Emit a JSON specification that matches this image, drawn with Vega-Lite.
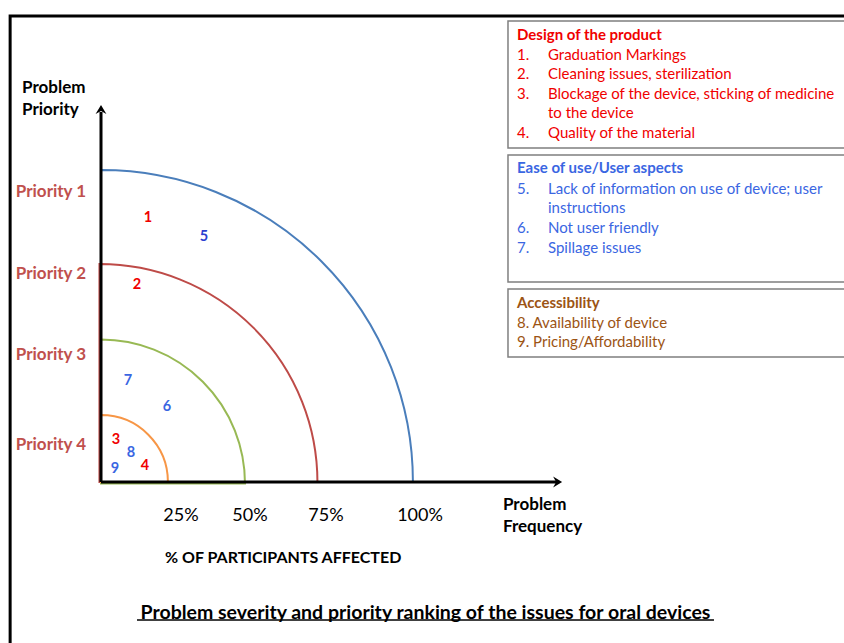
{
  "$schema": "https://vega.github.io/schema/vega-lite/v6.json",
  "width": 844,
  "height": 643,
  "autosize": {"type": "fit", "contains": "padding"},
  "padding": 0,
  "background": "white",
  "config": {"view": {"stroke": null}, "font": "Lato"},
  "datasets": {
    "texts": [
      {"t": "Problem", "x": -25.73, "y": 128.34, "role": "axis_label"},
      {"t": "Priority", "x": -25.73, "y": 121.17, "role": "axis_label"},
      {"t": "Problem", "x": 130.94, "y": -7.49, "role": "axis_label"},
      {"t": "Frequency", "x": 130.94, "y": -14.66, "role": "axis_label"},
      {"t": "Priority 1", "x": -16.29, "y": 94.56, "role": "priority", "g": "priority"},
      {"t": "Priority 2", "x": -16.29, "y": 67.65, "role": "priority", "g": "priority"},
      {"t": "Priority 3", "x": -16.29, "y": 41.47, "role": "priority", "g": "priority"},
      {"t": "Priority 4", "x": -16.29, "y": 12.16, "role": "priority", "g": "priority"},
      {"t": "1", "x": 15.31, "y": 85.99, "role": "marker", "g": "design"},
      {"t": "5", "x": 33.55, "y": 79.8, "role": "marker", "g": "use_dark"},
      {"t": "2", "x": 11.73, "y": 64.17, "role": "marker", "g": "design"},
      {"t": "7", "x": 8.79, "y": 32.9, "role": "marker", "g": "use"},
      {"t": "6", "x": 21.5, "y": 24.43, "role": "marker", "g": "use"},
      {"t": "3", "x": 4.89, "y": 13.68, "role": "marker", "g": "design"},
      {"t": "8", "x": 9.77, "y": 9.45, "role": "marker", "g": "use"},
      {"t": "9", "x": 4.56, "y": 4.23, "role": "marker", "g": "use"},
      {"t": "4", "x": 14.33, "y": 5.21, "role": "marker", "g": "design"},
      {"t": "25%", "x": 26.06, "y": -11.07, "role": "tick"},
      {"t": "50%", "x": 48.53, "y": -11.07, "role": "tick"},
      {"t": "75%", "x": 73.29, "y": -11.07, "role": "tick"},
      {"t": "100%", "x": 103.91, "y": -11.07, "role": "tick"},
      {"t": "% OF PARTICIPANTS AFFECTED", "x": 20.85, "y": -24.66, "role": "caption"},
      {"t": "Problem severity and priority ranking of the issues for oral devices", "x": 105.7, "y": -42.67, "role": "title"},
      {"t": "Design of the product", "x": 135.5, "y": 145.6, "role": "box_head", "g": "design"},
      {"t": "1.", "x": 135.5, "y": 139.09, "role": "box_item", "g": "design"},
      {"t": "Graduation Markings", "x": 145.6, "y": 139.09, "role": "box_item", "g": "design"},
      {"t": "2.", "x": 135.5, "y": 132.9, "role": "box_item", "g": "design"},
      {"t": "Cleaning issues, sterilization", "x": 145.6, "y": 132.9, "role": "box_item", "g": "design"},
      {"t": "3.", "x": 135.5, "y": 126.38, "role": "box_item", "g": "design"},
      {"t": "Blockage of the device, sticking of medicine", "x": 145.6, "y": 126.38, "role": "box_item", "g": "design"},
      {"t": "to the device", "x": 145.6, "y": 120.19, "role": "box_item", "g": "design"},
      {"t": "4.", "x": 135.5, "y": 113.68, "role": "box_item", "g": "design"},
      {"t": "Quality of the material", "x": 145.6, "y": 113.68, "role": "box_item", "g": "design"},
      {"t": "Ease of use/User aspects", "x": 135.5, "y": 102.28, "role": "box_head", "g": "use"},
      {"t": "5.", "x": 135.5, "y": 95.44, "role": "box_item", "g": "use"},
      {"t": "Lack of information on use of device; user", "x": 145.6, "y": 95.44, "role": "box_item", "g": "use"},
      {"t": "instructions", "x": 145.6, "y": 89.25, "role": "box_item", "g": "use"},
      {"t": "6.", "x": 135.5, "y": 82.74, "role": "box_item", "g": "use"},
      {"t": "Not user friendly", "x": 145.6, "y": 82.74, "role": "box_item", "g": "use"},
      {"t": "7.", "x": 135.5, "y": 76.22, "role": "box_item", "g": "use"},
      {"t": "Spillage issues", "x": 145.6, "y": 76.22, "role": "box_item", "g": "use"},
      {"t": "Accessibility", "x": 135.5, "y": 58.31, "role": "box_head", "g": "access"},
      {"t": "8. Availability of device", "x": 135.5, "y": 51.79, "role": "box_item", "g": "access"},
      {"t": "9. Pricing/Affordability", "x": 135.5, "y": 45.6, "role": "box_item", "g": "access"}
    ]
  },
  "encoding": {
    "x": {"field": "x", "type": "quantitative", "scale": {"domain": [-32.9, 242.02], "nice": false, "zero": false}, "axis": null},
    "y": {"field": "y", "type": "quantitative", "scale": {"domain": [-52.44, 157.0], "nice": false, "zero": false}, "axis": null}
  },
  "layer": [
    {
      "data": {"values": [{"x": -29.6, "x2": 260, "y": 151.8, "y2": -71}]},
      "mark": {"type": "rect", "filled": false, "stroke": "black", "strokeWidth": 3, "clip": true},
      "encoding": {"x2": {"field": "x2"}, "y2": {"field": "y2"}}
    },
    {
      "data": {"values": [
        {"box": "design", "x": 132.57, "x2": 260.26, "y": 150.16, "y2": 108.79},
        {"box": "use", "x": 132.57, "x2": 260.26, "y": 106.51, "y2": 65.15},
        {"box": "access", "x": 132.57, "x2": 260.26, "y": 62.87, "y2": 40.72}
      ]},
      "mark": {"type": "rect", "fill": "white", "stroke": "#7f7f7f", "strokeWidth": 1.5, "clip": true},
      "encoding": {"x2": {"field": "x2"}, "y2": {"field": "y2"}}
    },
    {
      "data": {"values": [
        {"x": 0, "y": 0, "r": 101.6, "level": "Priority 1"},
        {"x": -0.5, "y": 0, "r": 71.0, "level": "Priority 2"},
        {"x": 0, "y": -0.5, "r": 46.9, "level": "Priority 3"},
        {"x": 0, "y": 0, "r": 21.8, "level": "Priority 4"}
      ]},
      "mark": {"type": "arc", "theta": 0, "theta2": 1.5708, "filled": false, "strokeWidth": 2, "clip": true},
      "encoding": {
        "radius": {"field": "r", "type": "quantitative", "stack": null, "scale": {"type": "linear", "domain": [0, 100], "range": [0, 307], "zero": true}},
        "stroke": {"field": "level", "type": "nominal", "scale": {"domain": ["Priority 1", "Priority 2", "Priority 3", "Priority 4"], "range": ["#4a7ebb", "#be4b48", "#98b954", "#f79646"]}, "legend": null}
      }
    },
    {
      "data": {"values": [
        {"x": 0, "y": 0, "x2": 0, "y2": 120.5},
        {"x": 0, "y": 0, "x2": 148.5, "y2": 0}
      ]},
      "mark": {"type": "rule", "color": "black", "strokeWidth": 3},
      "encoding": {"x2": {"field": "x2"}, "y2": {"field": "y2"}}
    },
    {
      "data": {"values": [
        {"x": 0, "y": 122.8, "dir": "up"},
        {"x": 150.2, "y": 0, "dir": "right"}
      ]},
      "mark": {"type": "point", "filled": true, "color": "black", "size": 144, "opacity": 1},
      "encoding": {
        "shape": {"field": "dir", "type": "nominal", "scale": {"domain": ["up", "right"], "range": ["M-0.9,1.5L0,0L0.9,1.5L0,1.0Z", "M-1.5,-0.9L0,0L-1.5,0.9L-1.0,0Z"]}, "legend": null}
      }
    },
    {
      "data": {"values": [{"x": 11.73, "x2": 199.67, "y": -44.95}]},
      "mark": {"type": "rule", "color": "black", "strokeWidth": 1.5},
      "encoding": {"x2": {"field": "x2"}}
    },
    {
      "data": {"name": "texts"},
      "transform": [{"filter": "datum.role === 'axis_label'"}],
      "mark": {"type": "text", "align": "left", "baseline": "middle", "fontWeight": "bold", "fontSize": 17, "color": "black"},
      "encoding": {"text": {"field": "t"}}
    },
    {
      "data": {"name": "texts"},
      "transform": [{"filter": "datum.role === 'priority' || datum.role === 'marker'"}],
      "mark": {"type": "text", "align": "center", "baseline": "middle", "fontWeight": "bold"},
      "encoding": {
        "text": {"field": "t"},
        "size": {"field": "role", "type": "nominal", "scale": {"domain": ["priority", "marker"], "range": [17, 14.5]}, "legend": null},
        "color": {"field": "g", "type": "nominal", "scale": {"domain": ["design", "use", "use_dark", "access", "priority"], "range": ["#f00000", "#3a66e2", "#2a3fd0", "#9c5414", "#c0504d"]}, "legend": null}
      }
    },
    {
      "data": {"name": "texts"},
      "transform": [{"filter": "datum.role === 'tick'"}],
      "mark": {"type": "text", "align": "center", "baseline": "middle", "fontSize": 18, "color": "black"},
      "encoding": {"text": {"field": "t"}}
    },
    {
      "data": {"name": "texts"},
      "transform": [{"filter": "datum.role === 'caption'"}],
      "mark": {"type": "text", "align": "left", "baseline": "middle", "fontSize": 16, "fontWeight": "bold", "color": "black"},
      "encoding": {"text": {"field": "t"}}
    },
    {
      "data": {"name": "texts"},
      "transform": [{"filter": "datum.role === 'title'"}],
      "mark": {"type": "text", "align": "center", "baseline": "middle", "fontSize": 19.5, "fontWeight": "bold", "color": "black"},
      "encoding": {"text": {"field": "t"}}
    },
    {
      "data": {"name": "texts"},
      "transform": [{"filter": "datum.role === 'box_head'"}],
      "mark": {"type": "text", "align": "left", "baseline": "middle", "fontSize": 15, "fontWeight": "bold"},
      "encoding": {
        "text": {"field": "t"},
        "color": {"field": "g", "type": "nominal", "scale": {"domain": ["design", "use", "use_dark", "access", "priority"], "range": ["#f00000", "#3a66e2", "#2a3fd0", "#9c5414", "#c0504d"]}, "legend": null}
      }
    },
    {
      "data": {"name": "texts"},
      "transform": [{"filter": "datum.role === 'box_item'"}],
      "mark": {"type": "text", "align": "left", "baseline": "middle", "fontSize": 15},
      "encoding": {
        "text": {"field": "t"},
        "color": {"field": "g", "type": "nominal", "scale": {"domain": ["design", "use", "use_dark", "access", "priority"], "range": ["#f00000", "#3a66e2", "#2a3fd0", "#9c5414", "#c0504d"]}, "legend": null}
      }
    }
  ]
}
